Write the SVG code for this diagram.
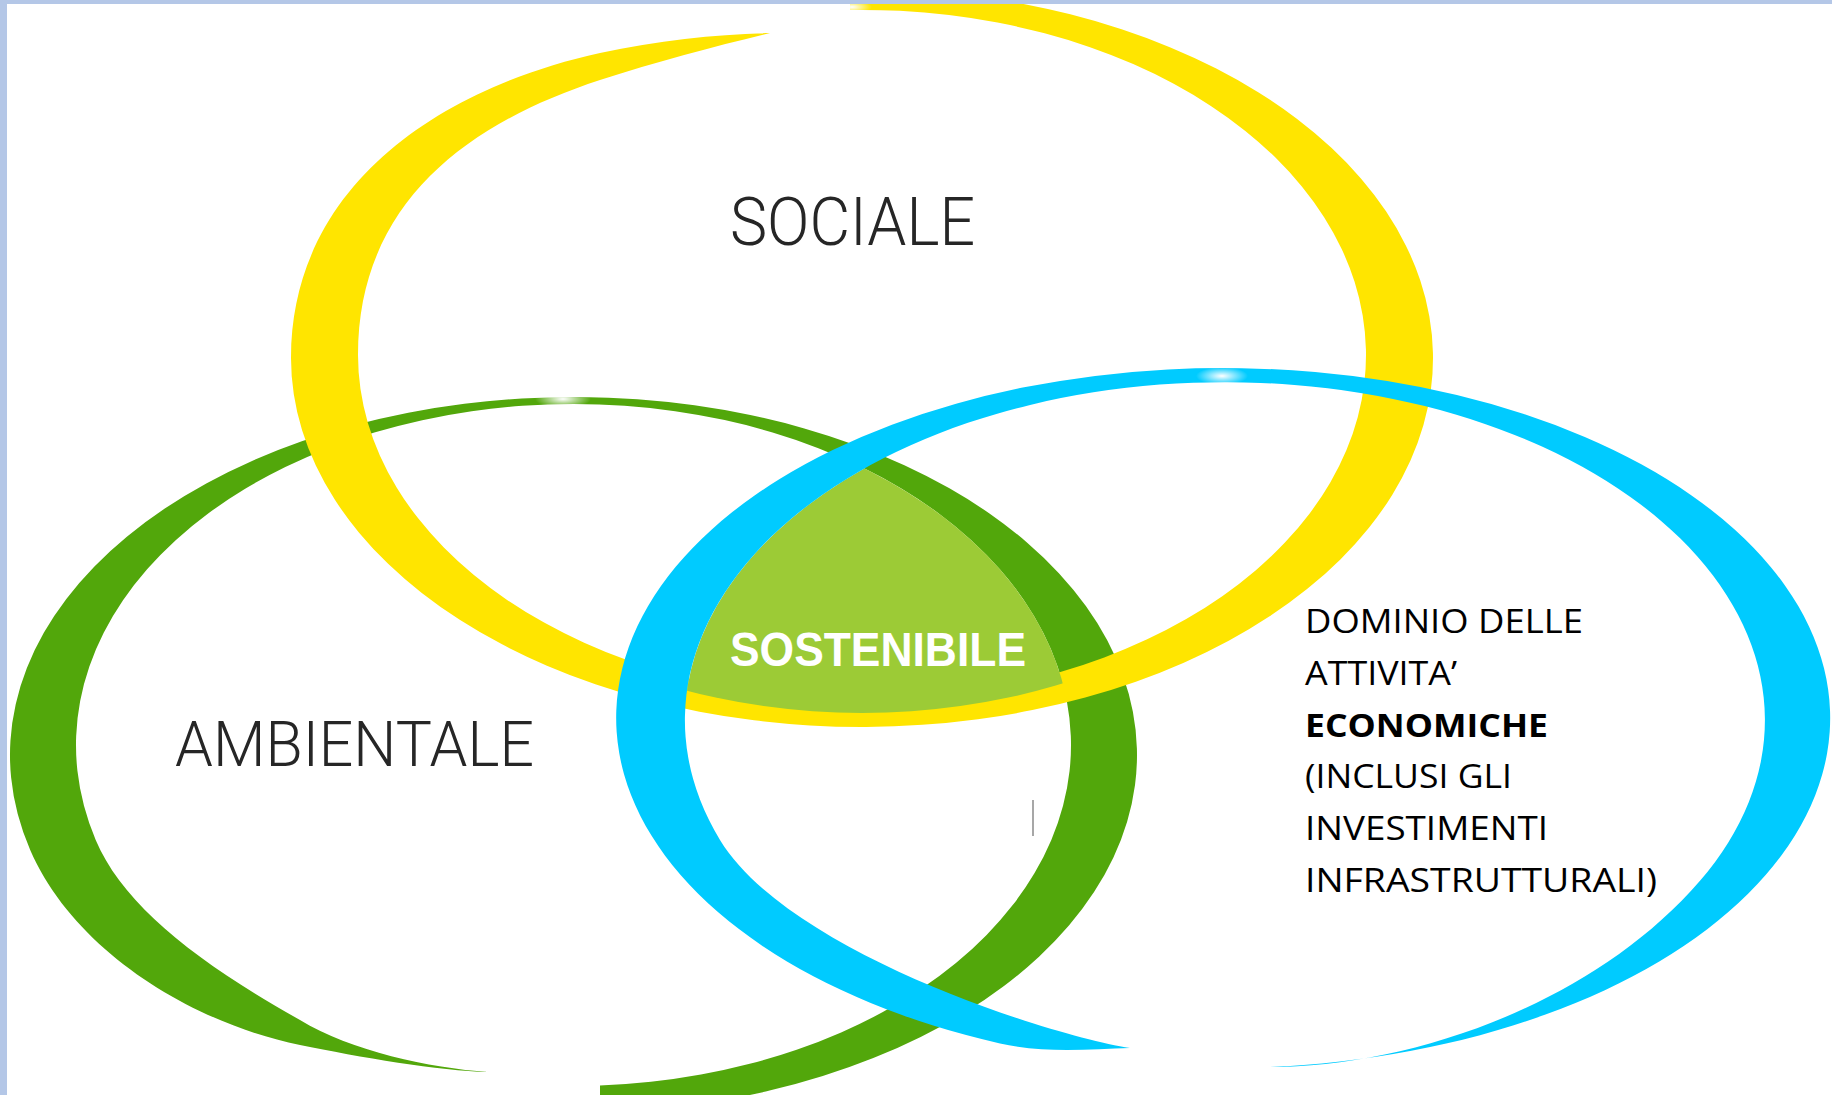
<svg xmlns="http://www.w3.org/2000/svg" width="1832" height="1095" viewBox="0 0 1832 1095">
  <defs>
    <style>
      .lbl{font-family:Roboto,"Liberation Sans",Arial,sans-serif;font-weight:300;fill:#262626;}
      .core{font-family:"Liberation Sans",Arial,sans-serif;font-weight:700;fill:#ffffff;}
      .desc{font-family:"Open Sans","Liberation Sans",Arial,sans-serif;font-size:32px;fill:#000000;}
      .yellow{fill:#FFE500;}
      .green{fill:#52A70B;}
      .blue{fill:#00CBFF;}
      .lime{fill:#9CCB36;}
    </style>
    <clipPath id="page"><rect x="7" y="4" width="1825" height="1091"/></clipPath>
    <clipPath id="blueInner"><ellipse cx="1225" cy="720" rx="540" ry="338"/></clipPath>
    <clipPath id="greenInner"><ellipse cx="573.5" cy="745" rx="497.5" ry="341"/></clipPath>
    <radialGradient id="glint">
      <stop offset="0" stop-color="#ffffff" stop-opacity="1"/>
      <stop offset="1" stop-color="#ffffff" stop-opacity="0"/>
    </radialGradient>
  </defs>

  <!-- slide frame -->
  <rect width="1832" height="1095" fill="#B4C7E7"/>

  <g clip-path="url(#page)">
    <rect x="7" y="4" width="1825" height="1091" fill="#ffffff"/>

    <!-- environmental ring -->
    <g id="ambientale">
      <path class="green" d="M 30.2,850 C 74,950.9 192.2,1023 300,1045 C 358.8,1057 440,1071 488,1072 C 430,1068 351,1051 300,1020 C 195.6,961.2 123,904.5 95.7,840 A 497.5 341 0 1 1 600,1085.5 L 600,1112.6 A 563.5 358 0 1 0 30.2,850 Z"/>
      <ellipse cx="563" cy="399" rx="28" ry="9" fill="url(#glint)"/>
      <text class="lbl" x="175" y="766" font-size="63" textLength="359" lengthAdjust="spacingAndGlyphs">AMBIENTALE</text>
    </g>

    <!-- social ring -->
    <g id="sociale">
      <path class="yellow" d="M 850,-11 A 571 369 0 1 1 291,358 C 291,190 434,89.6 600,53 C 658.6,40.1 720,34 770,33 C 720,45 657,61.4 600,80 C 467,123.4 358,203.7 358,355 A 504 345 0 1 0 850,10 Z"/>
      <ellipse cx="852" cy="7" rx="20" ry="7" fill="url(#glint)"/>
      <text class="lbl" x="730" y="245" font-size="66" textLength="245" lengthAdjust="spacingAndGlyphs">SOCIALE</text>
    </g>

    <!-- shared core -->
    <g id="sostenibile">
      <g clip-path="url(#blueInner)">
        <g clip-path="url(#greenInner)">
          <ellipse class="lime" cx="862" cy="355" rx="504" ry="358"/>
        </g>
      </g>
      <text class="core" x="730" y="666" font-size="48" textLength="296" lengthAdjust="spacingAndGlyphs">SOSTENIBILE</text>
    </g>

    <!-- economic ring -->
    <g id="economico">
      <path class="blue" d="M 1267,1067.1 A 607 350 0 1 0 1000,1043.5 C 1045,1053.5 1090,1049 1130,1048 C 1050,1036 787.3,951.2 720,840 A 540 338 0 1 1 1700,880.8 C 1588.8,1009.5 1400,1068 1267,1067.1 Z"/>
      <ellipse cx="1222" cy="376" rx="26" ry="9" fill="url(#glint)"/>
      <text class="desc" x="1305" y="633" textLength="278" lengthAdjust="spacingAndGlyphs">DOMINIO DELLE</text>
      <text class="desc" x="1305" y="685" textLength="152" lengthAdjust="spacingAndGlyphs">ATTIVITA’</text>
      <text class="desc" x="1305" y="737" font-weight="700" textLength="243" lengthAdjust="spacingAndGlyphs">ECONOMICHE</text>
      <text class="desc" x="1305" y="788" textLength="207" lengthAdjust="spacingAndGlyphs">(INCLUSI GLI</text>
      <text class="desc" x="1305" y="840" textLength="243" lengthAdjust="spacingAndGlyphs">INVESTIMENTI</text>
      <text class="desc" x="1305" y="892" textLength="352" lengthAdjust="spacingAndGlyphs">INFRASTRUTTURALI)</text>
    </g>

    <!-- small stray tick inside the green ring -->
    <line x1="1033" y1="800" x2="1033" y2="836" stroke="#8a8a8a" stroke-width="1.5"/>
  </g>
</svg>
